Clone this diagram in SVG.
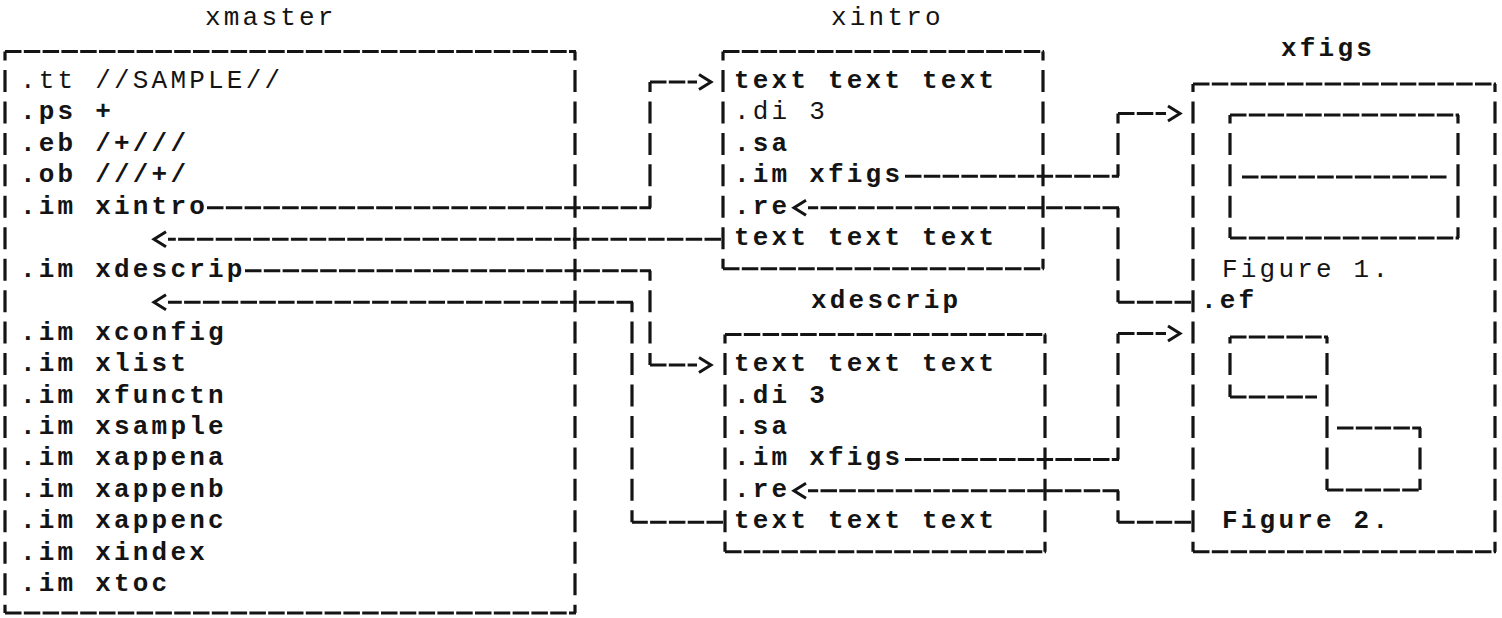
<svg xmlns="http://www.w3.org/2000/svg" width="1502" height="618" viewBox="0 0 1502 618">
<style>
.t{font-family:"Liberation Mono","Courier New",monospace;font-size:26px;letter-spacing:3.2px;fill:#141414;font-weight:bold}
.n{font-weight:normal}
.h{fill:none;stroke:#141414;stroke-width:3;stroke-dasharray:16.5 2.3}
.v{fill:none;stroke:#141414;stroke-width:3.2;stroke-dasharray:22 9.45}
</style>
<defs>
<marker id="chev" markerUnits="userSpaceOnUse" markerWidth="24" markerHeight="24" viewBox="-4 -4 24 24" refX="-2" refY="7.5" orient="auto" overflow="visible">
<path d="M0,0 L12,7.5 L0,15" fill="none" stroke="#141414" stroke-width="3"/>
</marker>
</defs>
<rect width="1502" height="618" fill="#ffffff"/>

<g id="xmaster">
<text class="t n" x="205" y="25">xmaster</text>
<path class="h" d="M5,51.5 H576"/>
<path class="h" d="M5,613 H576"/>
<path class="v" d="M5,51.5 V613" stroke-dashoffset="12.95"/>
<path class="v" d="M575,51.5 V613" stroke-dashoffset="12.95"/>
<text class="t n" x="20" y="88">.tt //SAMPLE//</text>
<text class="t" x="20" y="119.45">.ps +</text>
<text class="t" x="20" y="150.9">.eb /+///</text>
<text class="t" x="20" y="182.35">.ob ///+/</text>
<text class="t" x="20" y="213.8">.im xintro</text>
<text class="t" x="20" y="276.7">.im xdescrip</text>
<text class="t" x="20" y="339.6">.im xconfig</text>
<text class="t" x="20" y="371.05">.im xlist</text>
<text class="t" x="20" y="402.5">.im xfunctn</text>
<text class="t" x="20" y="433.95">.im xsample</text>
<text class="t" x="20" y="465.4">.im xappena</text>
<text class="t" x="20" y="496.85">.im xappenb</text>
<text class="t" x="20" y="528.3">.im xappenc</text>
<text class="t" x="20" y="559.75">.im xindex</text>
<text class="t" x="20" y="591.2">.im xtoc</text>
</g>

<g id="xintro">
<text class="t n" x="831" y="25">xintro</text>
<path class="h" d="M723,51.5 H1044"/>
<path class="h" d="M723,268.7 H1044"/>
<path class="v" d="M723,51.5 V268.7" stroke-dashoffset="12.95"/>
<path class="v" d="M1043,51.5 V268.7" stroke-dashoffset="12.95"/>
<text class="t" x="734" y="88">text text text</text>
<text class="t n" x="734" y="119.45">.di 3</text>
<text class="t" x="734" y="150.9">.sa</text>
<text class="t" x="734" y="182.35">.im xfigs</text>
<text class="t" x="734" y="213.8">.re</text>
<text class="t" x="734" y="245.25">text text text</text>
</g>

<g id="xdescrip">
<text class="t" x="811" y="308">xdescrip</text>
<path class="h" d="M725,334.6 H1046"/>
<path class="h" d="M725,551.75 H1046"/>
<path class="v" d="M725,334.6 V551.75" stroke-dashoffset="13"/>
<path class="v" d="M1045,334.6 V551.75" stroke-dashoffset="13"/>
<text class="t" x="734" y="371.05">text text text</text>
<text class="t" x="734" y="402.5">.di 3</text>
<text class="t" x="734" y="433.95">.sa</text>
<text class="t" x="734" y="465.4">.im xfigs</text>
<text class="t" x="734" y="496.85">.re</text>
<text class="t" x="734" y="528.3">text text text</text>
</g>

<g id="xfigs">
<text class="t" x="1281" y="56">xfigs</text>
<path class="h" d="M1193,84 H1496"/>
<path class="h" d="M1193,551.75 H1496"/>
<path class="v" d="M1193,84 V551.75" stroke-dashoffset="14"/>
<path class="v" d="M1495,84 V551.75" stroke-dashoffset="14"/>
<path class="h" d="M1230,115 H1459"/>
<path class="h" d="M1242,177 H1448"/>
<path class="h" d="M1230,238 H1459"/>
<path class="v" d="M1230,115 V238" stroke-dashoffset="13.55"/>
<path class="v" d="M1458,115 V238" stroke-dashoffset="13.55"/>
<text class="t n" x="1222" y="276.7">Figure 1.</text>
<text class="t" x="1201" y="308.15">.ef</text>
<path class="h" d="M1230,337 H1328"/>
<path class="h" d="M1230,397 H1317"/>
<path class="h" d="M1337,428 H1421"/>
<path class="h" d="M1327,490 H1421"/>
<path class="v" d="M1230,337 V397" stroke-dashoffset="15.4"/>
<path class="v" d="M1327,337 V490" stroke-dashoffset="15.4"/>
<path class="v" d="M1420,428 V490" stroke-dashoffset="12.05"/>
<text class="t" x="1222" y="528.3">Figure 2.</text>
</g>

<g id="connectors">
<g id="c-xintro-in">
<path class="h" d="M207,207.8 H651"/>
<path class="v" d="M650,82 V207.8" stroke-dashoffset="12"/>
<path class="h" d="M650,82 H697" marker-end="url(#chev)"/>
</g>
<g id="c-xintro-back">
<path class="h" d="M721,239.25 H168" marker-end="url(#chev)"/>
</g>
<g id="c-xdescrip-in">
<path class="h" d="M245,270.7 H651"/>
<path class="v" d="M650,270.7 V365.05" stroke-dashoffset="12"/>
<path class="h" d="M650,365.05 H697" marker-end="url(#chev)"/>
</g>
<g id="c-xdescrip-back">
<path class="h" d="M723,522.3 H632"/>
<path class="v" d="M632,302.15 V522.3" stroke-dashoffset="12"/>
<path class="h" d="M633,302.15 H168" marker-end="url(#chev)"/>
</g>
<g id="c-xintro-xfigs">
<path class="h" d="M905,176.35 H1119"/>
<path class="v" d="M1118,113.45 V176.35" stroke-dashoffset="12"/>
<path class="h" d="M1118,113.45 H1166" marker-end="url(#chev)"/>
</g>
<g id="c-xfigs-xintro">
<path class="h" d="M1191,302.15 H1118"/>
<path class="v" d="M1118,207.8 V302.15" stroke-dashoffset="12"/>
<path class="h" d="M1119,207.8 H808" marker-end="url(#chev)"/>
</g>
<g id="c-xdescrip-xfigs">
<path class="h" d="M905,459.4 H1119"/>
<path class="v" d="M1118,333.6 V459.4" stroke-dashoffset="12"/>
<path class="h" d="M1118,333.6 H1166" marker-end="url(#chev)"/>
</g>
<g id="c-xfigs-xdescrip">
<path class="h" d="M1191,522.3 H1118"/>
<path class="v" d="M1118,490.85 V522.3" stroke-dashoffset="12"/>
<path class="h" d="M1119,490.85 H808" marker-end="url(#chev)"/>
</g>
</g>
</svg>
